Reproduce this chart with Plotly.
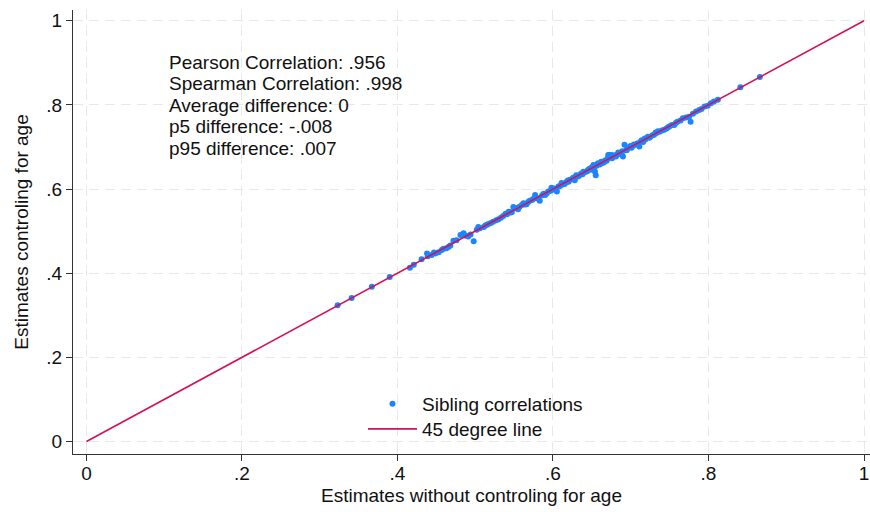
import plotly.graph_objects as go

# Sibling-correlation estimates: without vs. with age controls
est_no_age = [
    0.323, 0.341, 0.367, 0.390, 0.416, 0.421, 0.431, 0.438, 0.439, 0.444,
    0.449, 0.453, 0.457, 0.463, 0.466, 0.472, 0.481, 0.485, 0.491, 0.494,
    0.498, 0.502, 0.504, 0.511, 0.515, 0.506, 0.517, 0.523, 0.530, 0.536,
    0.541, 0.545, 0.549, 0.551, 0.555, 0.560, 0.562, 0.566, 0.570, 0.573,
    0.577, 0.579, 0.581, 0.583, 0.586, 0.590, 0.592, 0.594, 0.597, 0.600,
    0.602, 0.605, 0.607, 0.609, 0.612, 0.615, 0.617, 0.620, 0.622, 0.625,
    0.628, 0.628, 0.630, 0.632, 0.634, 0.636, 0.638, 0.640, 0.642, 0.645,
    0.647, 0.650, 0.652, 0.654, 0.655, 0.656, 0.658, 0.660, 0.662, 0.664,
    0.667, 0.669, 0.671, 0.673, 0.675, 0.676, 0.678, 0.681, 0.683, 0.685,
    0.688, 0.690, 0.692, 0.694, 0.696, 0.699, 0.701, 0.703, 0.706, 0.709,
    0.711, 0.713, 0.716, 0.719, 0.722, 0.725, 0.728, 0.730, 0.733, 0.737,
    0.740, 0.743, 0.746, 0.750, 0.753, 0.756, 0.760, 0.764, 0.767, 0.771,
    0.775, 0.777, 0.780, 0.784, 0.788, 0.791, 0.795, 0.799, 0.803, 0.807,
    0.812, 0.841, 0.866,
    0.598, 0.603, 0.611, 0.619, 0.626, 0.633, 0.639, 0.644, 0.649, 0.653,
    0.657, 0.661, 0.666, 0.670, 0.674, 0.679, 0.684, 0.689, 0.695, 0.700,
    0.704, 0.708, 0.714, 0.718, 0.724, 0.732, 0.735, 0.748, 0.758,
    0.447, 0.459, 0.468, 0.476, 0.488, 0.513, 0.520, 0.527, 0.533, 0.539,
    0.543, 0.547, 0.553, 0.557, 0.564, 0.568, 0.575, 0.588,
]
est_age = [
    0.324, 0.341, 0.368, 0.391, 0.413, 0.420, 0.433, 0.447, 0.440, 0.443,
    0.447, 0.450, 0.455, 0.459, 0.463, 0.477, 0.491, 0.495, 0.487, 0.492,
    0.476, 0.503, 0.510, 0.510, 0.515, 0.507, 0.517, 0.522, 0.528, 0.536,
    0.540, 0.544, 0.557, 0.554, 0.552, 0.562, 0.566, 0.564, 0.572, 0.574,
    0.586, 0.578, 0.578, 0.572, 0.585, 0.586, 0.590, 0.594, 0.596, 0.599,
    0.601, 0.594, 0.606, 0.607, 0.611, 0.612, 0.616, 0.617, 0.622, 0.624,
    0.621, 0.628, 0.633, 0.630, 0.633, 0.636, 0.635, 0.640, 0.641, 0.645,
    0.648, 0.652, 0.657, 0.641, 0.633, 0.655, 0.661, 0.658, 0.665, 0.662,
    0.668, 0.667, 0.681, 0.681, 0.681, 0.673, 0.677, 0.677, 0.682, 0.685,
    0.685, 0.677, 0.705, 0.692, 0.697, 0.701, 0.698, 0.703, 0.705, 0.709,
    0.701, 0.713, 0.712, 0.718, 0.724, 0.724, 0.728, 0.729, 0.733, 0.736,
    0.739, 0.741, 0.744, 0.749, 0.752, 0.752, 0.760, 0.763, 0.768, 0.770,
    0.772, 0.760, 0.779, 0.784, 0.788, 0.790, 0.796, 0.798, 0.804, 0.808,
    0.812, 0.842, 0.866,
    0.603, 0.600, 0.614, 0.620, 0.627, 0.631, 0.641, 0.642, 0.646, 0.651,
    0.659, 0.660, 0.664, 0.672, 0.676, 0.680, 0.687, 0.690, 0.693, 0.702,
    0.706, 0.707, 0.716, 0.720, 0.722, 0.734, 0.737, 0.747, 0.757,
    0.449, 0.458, 0.466, 0.478, 0.489, 0.513, 0.519, 0.526, 0.532, 0.541,
    0.546, 0.545, 0.555, 0.558, 0.563, 0.569, 0.577, 0.589,
]

# Reference 45-degree line endpoints
diag = [0, 1]

# Axis ticks
tick_vals = [0, 0.2, 0.4, 0.6, 0.8, 1]
tick_text = ["0", ".2", ".4", ".6", ".8", "1"]

# Summary statistics shown in the upper-left corner
stat_lines = [
    "Pearson Correlation: .956",
    "Spearman Correlation: .998",
    "Average difference: 0",
    "p5 difference: -.008",
    "p95 difference: .007",
]

BLUE = "#1A85FF"
RED = "#D41159"
FONT = "Liberation Sans, Arial, sans-serif"
FS = 19

W, H = 870, 512
L, R, T, B = 73, 0, 10, 58
plot_w, plot_h = W - L - R, H - T - B


def px_x(px):
    return (px - L) / plot_w


def px_y(py):
    return (H - B - py) / plot_h


fig = go.Figure()
fig.add_trace(go.Scatter(
    x=est_no_age, y=est_age, mode="markers", name="Sibling correlations",
    marker=dict(color=BLUE, size=6, line=dict(width=0)),
    legend="legend",
))
fig.add_trace(go.Scatter(
    x=diag, y=diag, mode="lines", name="45 degree line",
    line=dict(color=RED, width=1.6),
    legend="legend2",
))

for i, txt in enumerate(stat_lines):
    py = 62 + i * 21.5
    fig.add_annotation(
        text=txt, xref="paper", yref="paper",
        x=px_x(167), y=px_y(py),
        xanchor="left", yanchor="middle", showarrow=False,
        font=dict(size=FS, color="#111111", family=FONT),
    )

axis_common = dict(
    tickvals=tick_vals, ticktext=tick_text,
    showgrid=True, gridcolor="#E8E8E8", gridwidth=1, griddash="10px,6px",
    zeroline=False, showline=True, linecolor="#333333", linewidth=1,
    ticks="outside", ticklen=6, tickcolor="#333333", tickwidth=1,
    tickfont=dict(size=FS, color="#111111", family=FONT),
    ticklabeloverflow="allow",
    automargin=False,
)

legend_common = dict(
    xanchor="left", yanchor="top",
    bgcolor="rgba(0,0,0,0)", borderwidth=0,
    font=dict(size=FS, color="#111111", family=FONT),
    itemwidth=49, tracegroupgap=0,
)

fig.update_layout(
    width=W, height=H,
    margin=dict(l=L, r=R, t=T, b=B),
    paper_bgcolor="white", plot_bgcolor="white",
    font=dict(family=FONT, size=FS, color="#111111"),
    xaxis=dict(range=[-0.0173, 1.0077],
               ticklabelstandoff=-4,
               title=dict(text="Estimates without controling for age", standoff=5,
                          font=dict(size=FS)),
               **axis_common),
    yaxis=dict(range=[-0.0297, 1.0254],
               title=dict(text="Estimates controling for age", standoff=12,
                          font=dict(size=FS)),
               **axis_common),
    showlegend=True,
    legend=dict(x=px_x(363), y=px_y(385), **legend_common),
    legend2=dict(x=px_x(363), y=px_y(410), **legend_common),
)

fig.write_html("out.html")
